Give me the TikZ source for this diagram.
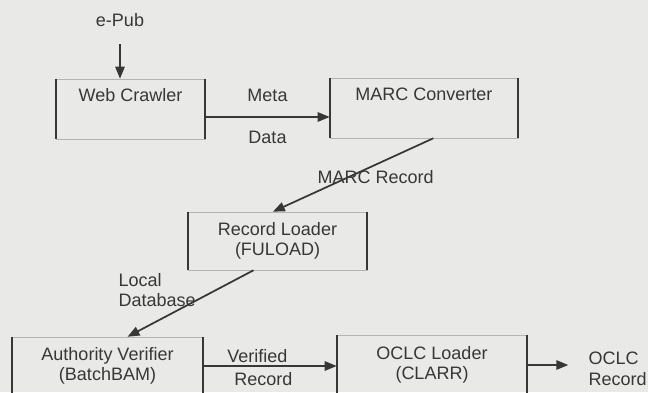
\documentclass[tikz,border=0pt]{standalone}
\usepackage{fontspec}
\setmainfont{Liberation Sans}
\usepackage{xcolor}
\usepackage{tikz}
\usetikzlibrary{arrows.meta, positioning}

\definecolor{paper}{RGB}{233,233,231}
\definecolor{ink}{RGB}{55,55,55}
\definecolor{rule}{RGB}{180,180,180}

\begin{document}
\begin{tikzpicture}[
    x=0.75pt, y=-0.75pt,
    font=\fontsize{13.5}{15.5}\selectfont, text=ink,
    stage/.style={rectangle, draw=rule, thin, inner xsep=0pt, inner ysep=0pt, align=center},
    oneline/.style={text height=17pt, text depth=28pt},
    side/.style={ink, line width=1.4pt},
    flow/.style={-{Triangle[length=9pt, width=7pt]}, ink, line width=1.3pt},
    lbl/.style={inner sep=1pt}
]
\fill [paper] (0,0) rectangle (648,392);
\clip (0,0) rectangle (648,392);

\node [stage, oneline, minimum width=111.75pt] (crawl) at (130.5,109) {Web Crawler};
\node [stage, oneline, minimum width=141pt] (conv) at (424,108) {MARC Converter};
\node [stage, minimum width=134.25pt, minimum height=43.5pt] (loader) at (277.5,241) {Record Loader\\(FULOAD)};
\node [stage, minimum width=143.25pt, minimum height=43.5pt] (verif) at (107.5,366) {Authority Verifier\\(BatchBAM)};
\node [stage, minimum width=142.5pt, minimum height=45pt] (oclc) at (432,365) {OCLC Loader\\(CLARR)};

\node [lbl] (epub) at (120,20) {e-Pub};
\node [lbl, align=left, anchor=west] (out) at (587,369) {OCLC\\Record};

% heavy left and right sides of the boxes
\foreach \n in {crawl, conv, loader, verif, oclc}
  \draw [side] (\n.north west) -- (\n.south west) (\n.north east) -- (\n.south east);

\draw [flow, shorten <=12pt] (epub) -- (epub |- crawl.north);
\draw [flow] ([yshift=-6pt]crawl.east) -- ([yshift=-6pt]crawl.east -| conv.west)
    node [lbl, midway, above=10pt] (meta) {Meta}
    node [lbl, midway, below=9pt] (data) {Data};
\draw [flow] ([xshift=7pt]conv.south) -- ([xshift=-3.5pt]loader.north)
    node [lbl, pos=0.36, yshift=-9pt] (marc) {MARC Record};
\draw [flow] ([xshift=-18pt]loader.south) -- ([xshift=15pt]verif.north)
    node [lbl, pos=0.3, xshift=-44pt, align=left] (local) {Local\\Database};
\draw [flow] (verif.east) -- (verif.east -| oclc.west)
    node [lbl, midway, above=1.2pt, xshift=-9.4pt] (verified) {Verified}
    node [lbl, midway, below=3.5pt, xshift=-5pt] (record) {Record};
\draw [flow, shorten >=14pt] (oclc.east) -- (oclc.east -| out.west);
\end{tikzpicture}
\end{document}
